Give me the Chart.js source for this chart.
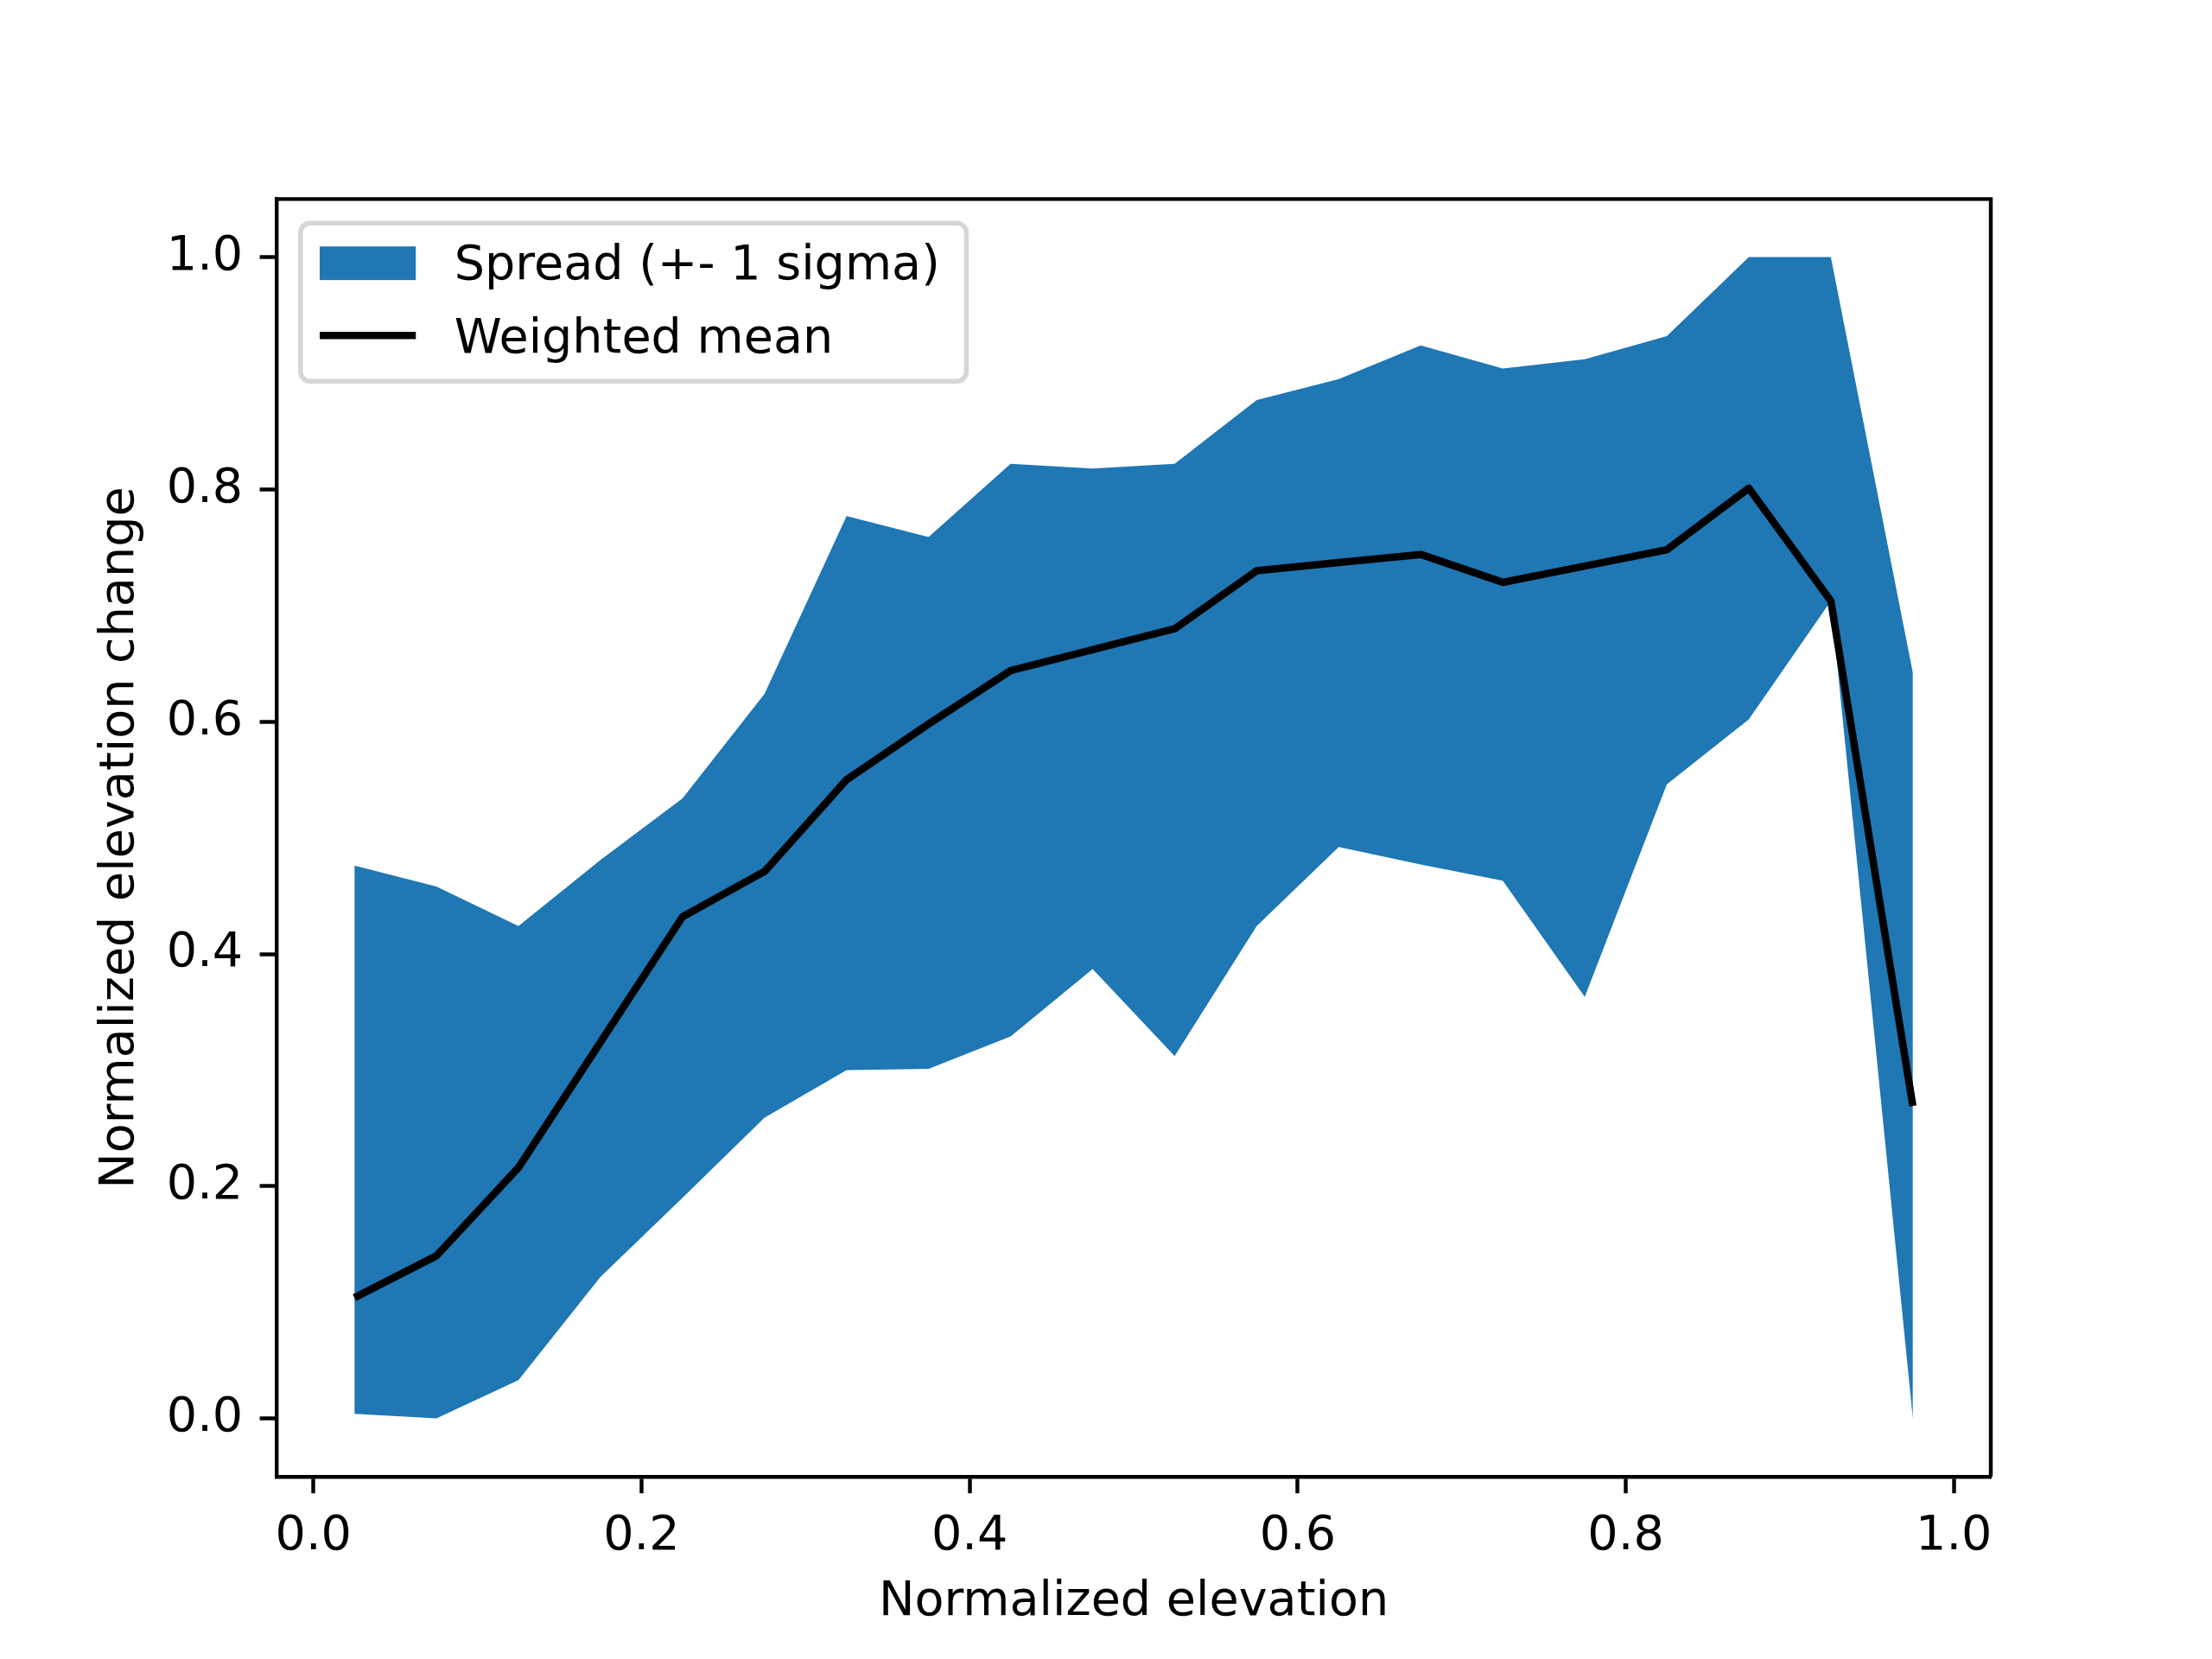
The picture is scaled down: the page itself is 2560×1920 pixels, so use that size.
<!DOCTYPE html>
<html>
<head>
<meta charset="utf-8">
<title>Normalized elevation change</title>
<script src="https://cdn.jsdelivr.net/npm/chart.js@4.4.1/dist/chart.umd.min.js"></script>
<style>
  html, body { margin: 0; padding: 0; background: #ffffff; }
  canvas { display: block; }
</style>
</head>
<body>
<canvas id="elevChart" width="2560" height="1920"></canvas>
<script>
// Bin centres (normalized elevation)
const binCenters = [0.025, 0.075, 0.125, 0.175, 0.225, 0.275, 0.325, 0.375, 0.425, 0.475,
                    0.525, 0.575, 0.625, 0.675, 0.725, 0.775, 0.825, 0.875, 0.925, 0.975];

// Spread band (+- 1 sigma)
const spreadUpper = [0.476, 0.458, 0.424, 0.481, 0.534, 0.624, 0.777, 0.759, 0.822, 0.818,
                     0.822, 0.877, 0.895, 0.924, 0.904, 0.912, 0.932, 1.000, 1.000, 0.642];
const spreadLower = [0.004, 0.000, 0.033, 0.122, 0.190, 0.259, 0.300, 0.301, 0.329, 0.387,
                     0.312, 0.424, 0.492, 0.477, 0.463, 0.363, 0.546, 0.602, 0.704, 0.000];

// Weighted mean
const weightedMean = [0.104, 0.140, 0.216, 0.324, 0.432, 0.471, 0.550, 0.598, 0.644, 0.662,
                      0.680, 0.730, 0.737, 0.744, 0.720, 0.734, 0.748, 0.801, 0.704, 0.269];

// Tick labels
const xTicks = [0.0, 0.2, 0.4, 0.6, 0.8, 1.0];
const yTicks = [0.0, 0.2, 0.4, 0.6, 0.8, 1.0];

const legendLabels = ['Spread (+- 1 sigma)', 'Weighted mean'];

const FONT = "'DejaVu Sans', 'Liberation Sans', sans-serif";
const FONT_PX = 55.6;      // 10pt @ 400 dpi
const SPINE_W = 4.44;      // 0.8pt
const TICK_LEN = 19.4;     // 3.5pt
const LINE_W = 8.6;        // 1.5pt
const FILL_BLUE = '#1f77b4';

function toPoints(ys) {
    return binCenters.map((x, i) => ({ x: x, y: ys[i] }));
}

// Top / right spines and the legend box (matplotlib style, inside the axes)
const axesFrame = {
    id: 'axesFrame',
    afterDatasetsDraw(chart) {
        const { ctx, chartArea } = chart;
        ctx.save();
        ctx.strokeStyle = '#000000';
        ctx.lineWidth = SPINE_W;
        ctx.beginPath();
        ctx.moveTo(chartArea.left, chartArea.top);
        ctx.lineTo(chartArea.right, chartArea.top);
        ctx.lineTo(chartArea.right, chartArea.bottom);
        ctx.stroke();
        ctx.restore();
    },
    afterDraw(chart) {
        const { ctx, chartArea } = chart;
        const em = FONT_PX;
        ctx.save();
        ctx.font = `${em}px ${FONT}`;

        const boxLeft = chartArea.left + 0.5 * em;
        const boxTop = chartArea.top + 0.5 * em;
        const handleX = boxLeft + 0.4 * em;
        const handleW = 2.0 * em;
        const textX = handleX + handleW + 0.8 * em;
        const textW = Math.max(...legendLabels.map(t => ctx.measureText(t).width));
        const boxW = textX + textW + 0.55 * em - boxLeft;
        const boxH = 183;
        const base1 = boxTop + 65;
        const base2 = base1 + 85;

        // frame
        ctx.beginPath();
        ctx.roundRect(boxLeft, boxTop, boxW, boxH, 0.2 * em);
        ctx.fillStyle = 'rgba(255,255,255,0.8)';
        ctx.fill();
        ctx.lineWidth = 5.56;
        ctx.strokeStyle = 'rgba(204,204,204,0.8)';
        ctx.stroke();

        // handles
        ctx.fillStyle = FILL_BLUE;
        ctx.fillRect(handleX, base1 - 38, handleW, 0.7 * em);
        ctx.strokeStyle = '#000000';
        ctx.lineWidth = LINE_W;
        ctx.beginPath();
        ctx.moveTo(handleX, base2 - 20);
        ctx.lineTo(handleX + handleW, base2 - 20);
        ctx.stroke();

        // labels
        ctx.fillStyle = '#000000';
        ctx.textBaseline = 'alphabetic';
        ctx.textAlign = 'left';
        ctx.fillText(legendLabels[0], textX, base1);
        ctx.fillText(legendLabels[1], textX, base2);
        ctx.restore();
    }
};

const ctx = document.getElementById('elevChart').getContext('2d');
const elevChart = new Chart(ctx, {
    type: 'line',
    data: {
        datasets: [
            {
                label: 'lower',
                data: toPoints(spreadLower),
                borderWidth: 0,
                borderColor: 'rgba(0,0,0,0)',
                pointRadius: 0,
                fill: false,
                tension: 0,
                order: 2
            },
            {
                label: legendLabels[0],
                data: toPoints(spreadUpper),
                borderWidth: 0,
                borderColor: 'rgba(0,0,0,0)',
                backgroundColor: FILL_BLUE,
                pointRadius: 0,
                fill: '-1',
                tension: 0,
                order: 1
            },
            {
                label: legendLabels[1],
                data: toPoints(weightedMean),
                borderColor: '#000000',
                borderWidth: LINE_W,
                borderJoinStyle: 'round',
                borderCapStyle: 'butt',
                pointRadius: 0,
                fill: false,
                tension: 0,
                order: 0
            }
        ]
    },
    options: {
        responsive: false,
        animation: false,
        devicePixelRatio: 1,
        layout: {
            padding: { top: 230.4, right: 256, bottom: 0, left: 0 }
        },
        plugins: {
            legend: { display: false },
            tooltip: { enabled: false },
            filler: { propagate: false, drawTime: 'beforeDatasetsDraw' }
        },
        scales: {
            x: {
                type: 'linear',
                min: -0.0225,
                max: 1.0225,
                afterFit: s => { s.height = 211.2; },
                afterBuildTicks: s => { s.ticks = xTicks.map(v => ({ value: v })); },
                grid: {
                    drawOnChartArea: false,
                    drawTicks: true,
                    tickLength: TICK_LEN,
                    tickWidth: SPINE_W,
                    tickColor: '#000000'
                },
                border: { display: true, color: '#000000', width: SPINE_W },
                ticks: {
                    padding: 17,
                    color: '#000000',
                    maxRotation: 0,
                    autoSkip: false,
                    font: { family: FONT, size: FONT_PX },
                    callback: v => Number(v).toFixed(1)
                },
                title: {
                    display: true,
                    text: 'Normalized elevation',
                    color: '#000000',
                    font: { family: FONT, size: FONT_PX, lineHeight: 1.2 },
                    padding: { top: 0, bottom: 32 }
                }
            },
            y: {
                type: 'linear',
                min: -0.05,
                max: 1.05,
                afterFit: s => { s.width = 320; },
                afterBuildTicks: s => { s.ticks = yTicks.map(v => ({ value: v })); },
                grid: {
                    drawOnChartArea: false,
                    drawTicks: true,
                    tickLength: TICK_LEN,
                    tickWidth: SPINE_W,
                    tickColor: '#000000'
                },
                border: { display: true, color: '#000000', width: SPINE_W },
                ticks: {
                    padding: 19.4,
                    color: '#000000',
                    autoSkip: false,
                    font: { family: FONT, size: FONT_PX },
                    callback: v => Number(v).toFixed(1)
                },
                title: {
                    display: true,
                    text: 'Normalized elevation change',
                    color: '#000000',
                    font: { family: FONT, size: FONT_PX, lineHeight: 1.2 },
                    padding: { top: 106, bottom: 0 }
                }
            }
        }
    },
    plugins: [axesFrame]
});
</script>
</body>
</html>
